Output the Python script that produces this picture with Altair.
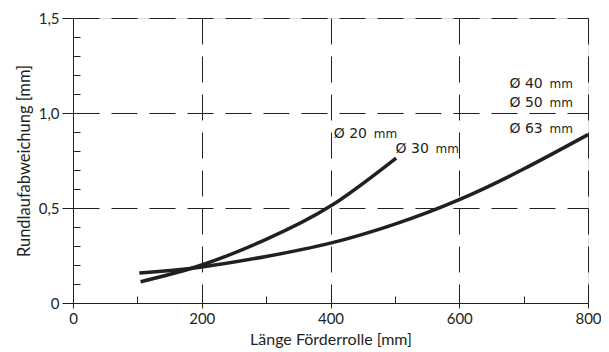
import altair as alt
import pandas as pd

# Curve data
steep_x = [105, 200, 300, 400, 502]
steep_y = [0.112, 0.200, 0.335, 0.510, 0.763]
flat_x = [103, 200, 300, 400, 500, 600, 700, 800]
flat_y = [0.158, 0.19, 0.245, 0.315, 0.415, 0.544, 0.705, 0.886]

# Annotation labels
lab_text = ["Ø 20", "Ø 30", "Ø 40", "Ø 50", "Ø 63"]
lab_x = [405, 501, 678, 678, 678]
lab_y = [0.868, 0.789, 1.133, 1.033, 0.896]

x_major = [0, 200, 400, 600, 800]
x_minor = list(range(0, 801, 100))
y_major = [0, 0.5, 1.0, 1.5]
y_minor = [round(i * 0.1, 1) for i in range(16)]

INK = "#231f20"
AXFONT = "Lato"
ANFONT = "DejaVu Sans"

df = pd.DataFrame(
    {"x": steep_x + flat_x,
     "y": steep_y + flat_y,
     "curve": ["steep"] * len(steep_x) + ["flat"] * len(flat_x)}
)
labels = pd.DataFrame({"t": lab_text, "lx": lab_x, "ly": lab_y, "mm": ["mm"] * len(lab_text)})

xscale = alt.Scale(domain=[0, 800], nice=False, zero=False)
yscale = alt.Scale(domain=[0, 1.5], nice=False, zero=False)

x_axis = alt.Axis(
    values=x_major, format="d", grid=True, gridDash=[26, 12], gridColor=INK,
    gridWidth=1, gridOpacity=1, tickSize=5, tickColor=INK, domainColor=INK,
    labelFont=AXFONT, labelFontSize=15, labelColor=INK, labelPadding=3,
    title="Länge Förderrolle [mm]", titleFont=AXFONT, titleFontSize=16,
    titleFontWeight="normal", titleColor=INK, titlePadding=5, orient="bottom",
    labelFlush=False,
)
y_axis = alt.Axis(
    values=y_major, labelExpr="datum.value == 0 ? '0' : replace(format(datum.value, '.1f'), '.', ',')",
    grid=True, gridDash=[26, 12], gridColor=INK, gridWidth=1, gridOpacity=1,
    tickSize=11, tickColor=INK, domainColor=INK,
    labelFont=AXFONT, labelFontSize=15, labelColor=INK, labelPadding=3,
    title="Rundlaufabweichung [mm]", titleFont=AXFONT, titleFontSize=16.5,
    titleFontWeight="normal", titleColor=INK, titlePadding=6, orient="left",
    labelFlush=False,
)

lines = alt.Chart(df).mark_line(
    strokeWidth=3.5, color=INK, interpolate="natural", strokeCap="butt"
).encode(
    x=alt.X("x:Q", scale=xscale, axis=x_axis),
    y=alt.Y("y:Q", scale=yscale, axis=y_axis),
    detail="curve:N",
)

minor_x_axis = alt.Axis(values=x_minor, orient="bottom", offset=-7, tickSize=7,
                        tickColor=INK, labels=False, domain=False, grid=False, title=None)
minor_y_axis = alt.Axis(values=y_minor, orient="left", offset=-7, tickSize=7,
                        tickColor=INK, labels=False, domain=False, grid=False, title=None)

num_text = alt.Chart(labels).mark_text(
    align="left", baseline="alphabetic", font=ANFONT, fontSize=14, color=INK
).encode(
    x=alt.X("lx:Q", scale=xscale, axis=minor_x_axis),
    y=alt.Y("ly:Q", scale=yscale, axis=minor_y_axis),
    text="t:N",
)
mm_text = alt.Chart(labels).mark_text(
    align="left", baseline="alphabetic", font=ANFONT, fontSize=12, color=INK, dx=40
).encode(
    x=alt.X("lx:Q", scale=xscale, axis=None),
    y=alt.Y("ly:Q", scale=yscale, axis=None),
    text="mm:N",
)

chart = alt.layer(lines, num_text, mm_text).resolve_axis(
    x="independent", y="independent"
).resolve_scale(x="shared", y="shared").properties(
    width=515, height=285, autosize="none",
    padding={"left": 65, "top": 10, "right": 13, "bottom": 45},
).configure_view(stroke=INK, strokeWidth=1).configure(background="white")

chart.save("out.html", embed_options={"renderer": "svg", "actions": False})
